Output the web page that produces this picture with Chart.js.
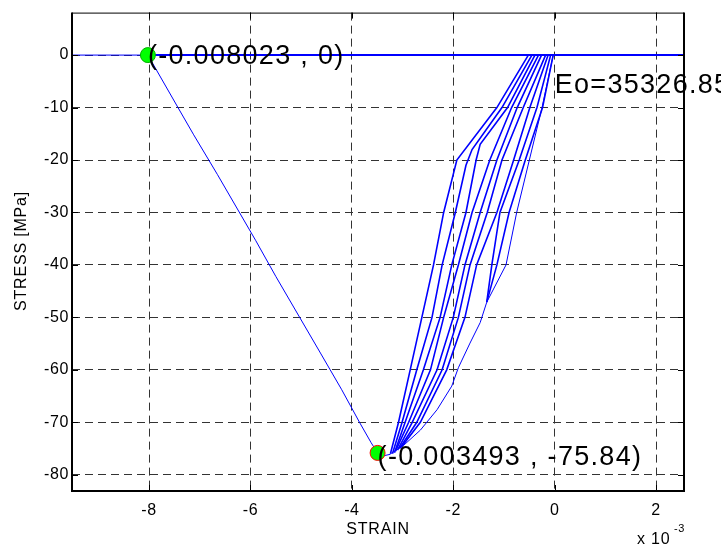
<!DOCTYPE html>
<html>
<head>
<meta charset="utf-8">
<script src="https://cdn.jsdelivr.net/npm/chart.js@4.4.1/dist/chart.umd.min.js"></script>
<style>
html, body { margin: 0; padding: 0; background: #fff; }
#wrap { width: 721px; height: 546px; }
</style>
</head>
<body>
<div id="wrap"><canvas id="chart" width="721" height="546"></canvas></div>
<script>
"use strict";
// strain is in units of 1e-3, stress in MPa
const xTicks = [-8, -6, -4, -2, 0, 2];
const yTicks = [0, -10, -20, -30, -40, -50, -60, -70, -80];
const xRange = [-9.52, 2.55];
const yRange = [-83.1, 8.1];

const zeroLine = [[-8.023, 0], [2.55, 0]];
const envelope = [[-9.52, 0], [-8.023, 0], [-7.43, -10], [-7.12, -15.2], [-6.65, -22.8], [-5.90, -35.3],
    [-5.50, -42.2], [-5.03, -50], [-4.62, -56.8], [-4.20, -63.8], [-3.85, -70], [-3.62, -73.9],
    [-3.493, -75.84], [-3.38, -76.4], [-3.24, -76.1]];

const loopL1 = [[-3.24, -76.0], [-3.08, -70], [-2.85, -60], [-2.62, -50], [-2.39, -40], [-2.19, -30], [-1.93, -20], [-1.14, -10], [-0.52, 0]];
const loopL2 = [[-3.20, -76.0], [-3.01, -70], [-2.72, -60], [-2.42, -50], [-2.22, -40], [-1.96, -30], [-1.75, -21], [-1.63, -18], [-1.04, -10], [-0.45, 0]];
const loopL3 = [[-3.16, -75.8], [-2.95, -70], [-2.59, -60], [-2.26, -50], [-2.03, -40], [-1.75, -30], [-1.55, -20], [-1.47, -17], [-0.93, -10], [-0.39, 0]];
const loopM1 = [[-3.14, -75.5], [-2.88, -70], [-2.45, -60], [-2.19, -50], [-1.90, -40], [-1.63, -30], [-1.28, -20], [-0.85, -10], [-0.32, 0]];
const loopM2 = [[-3.10, -75.3], [-2.81, -70], [-2.32, -60], [-2.00, -50], [-1.77, -40], [-1.47, -30], [-1.14, -20], [-0.74, -10], [-0.26, 0]];
const loopM3 = [[-3.06, -75.0], [-2.72, -70], [-2.22, -60], [-1.90, -50], [-1.67, -40], [-1.33, -30], [-1.04, -20], [-0.62, -10], [-0.18, 0]];
const loopM4 = [[-3.03, -74.8], [-2.65, -70], [-2.13, -60], [-1.77, -50], [-1.54, -40], [-1.14, -30], [-0.81, -20], [-0.49, -10], [-0.13, 0]];
const loopR1 = [[-1.34, -47.1], [-1.24, -40], [-1.08, -30], [-0.70, -20], [-0.35, -10], [-0.08, 0]];
const loopR2 = [[-1.34, -47.1], [-1.14, -40], [-0.90, -30], [-0.58, -20], [-0.24, -10], [-0.03, 0]];
const loopOuter = [[-3.24, -76.0], [-2.98, -74.4], [-2.65, -71.5], [-2.32, -67.6], [-2.03, -63.1], [-1.90, -59.6],
    [-1.67, -54.9], [-1.47, -51.0], [-1.34, -47.1], [-0.96, -40], [-0.75, -30], [-0.50, -20], [-0.25, -10], [-0.03, 0]];

const keyPoints = [[-8.023, 0], [-3.493, -75.84]];
const keyEdges = ['#00b000', '#ff0000'];
const modulusText = 'Eo=35326.85';
const modulusAt = [0, -7.2];

const FONT = 'Liberation Sans, Arial, sans-serif';
const BLUE = '#0000ff';

function pts(arr) {
    return arr.map(p => ({ x: p[0], y: p[1] }));
}

function lineSet(arr, width) {
    return {
        data: pts(arr), showLine: true, borderColor: BLUE, borderWidth: width,
        pointRadius: 0, fill: false, tension: 0, order: 2
    };
}

const loops = [loopL1, loopL2, loopL3, loopM1, loopM2, loopM3, loopM4, loopR1, loopR2];

const datasets = [
    {
        data: pts(keyPoints), showLine: false, pointRadius: 7.5, pointBackgroundColor: '#00ff00',
        pointBorderColor: keyEdges, pointBorderWidth: 1, order: 0
    },
    lineSet(envelope, 1),
    lineSet(zeroLine, 2),
    lineSet(loopOuter, 1)
].concat(loops.map(l => lineSet(l, 1.6)));

const frame = {
    id: 'frame',
    beforeDraw(chart) {
        chart.ctx.letterSpacing = '0.6px';
    },
    afterDatasetsDraw(chart) {
        const ctx = chart.ctx;
        const a = chart.chartArea;
        const xs = chart.scales.x, ys = chart.scales.y;
        ctx.save();
        ctx.strokeStyle = '#000';
        // tick marks pointing inward
        ctx.lineWidth = 1;
        ctx.beginPath();
        xTicks.forEach(v => {
            const px = Math.round(xs.getPixelForValue(v)) + 0.5;
            ctx.moveTo(px, a.bottom); ctx.lineTo(px, a.bottom - 6);
            ctx.moveTo(px, a.top); ctx.lineTo(px, a.top + 6);
        });
        yTicks.forEach(v => {
            const py = Math.round(ys.getPixelForValue(v)) + 0.5;
            ctx.moveTo(a.left, py); ctx.lineTo(a.left + 6, py);
            ctx.moveTo(a.right, py); ctx.lineTo(a.right - 6, py);
        });
        ctx.stroke();
        // box
        ctx.lineWidth = 1;
        ctx.beginPath();
        ctx.moveTo(a.left, a.top + 0.5); ctx.lineTo(a.right, a.top + 0.5);
        ctx.stroke();
        ctx.lineWidth = 2;
        ctx.beginPath();
        ctx.moveTo(a.left, a.top); ctx.lineTo(a.left, a.bottom); ctx.lineTo(a.right, a.bottom); ctx.lineTo(a.right, a.top);
        ctx.stroke();

        // point annotations
        ctx.fillStyle = '#000';
        ctx.font = '27px ' + FONT;
        ctx.letterSpacing = '1.3px';
        ctx.textAlign = 'left';
        ctx.textBaseline = 'alphabetic';
        keyPoints.forEach((p, i) => {
            const label = '(' + (p[0] / 1000).toFixed(6) + ' , ' + p[1] + ')';
            const dy = i === 0 ? 8.5 : 12;
            ctx.fillText(label, xs.getPixelForValue(p[0]), ys.getPixelForValue(p[1]) + dy);
        });
        ctx.fillText(modulusText, xs.getPixelForValue(modulusAt[0]), ys.getPixelForValue(modulusAt[1]));

        // axis titles
        ctx.font = '16px ' + FONT;
        ctx.letterSpacing = '0.8px';
        ctx.textAlign = 'center';
        ctx.textBaseline = 'middle';
        ctx.fillText('STRAIN', 378, 530);
        ctx.save();
        ctx.translate(22, 251);
        ctx.rotate(-Math.PI / 2);
        ctx.fillText('STRESS [MPa]', 0, 0);
        ctx.restore();
        ctx.textAlign = 'left';
        ctx.fillText('x 10', 637, 540);
        ctx.font = '11px ' + FONT;
        ctx.letterSpacing = '0.6px';
        ctx.fillText('-3', 674, 529);
        ctx.restore();
    }
};

const tickFont = { family: FONT, size: 16 };

new Chart(document.getElementById('chart'), {
    type: 'scatter',
    data: { datasets: datasets },
    options: {
        responsive: false,
        animation: false,
        events: [],
        layout: { padding: { top: 12, right: 37, left: 0, bottom: 0 } },
        plugins: { legend: { display: false }, tooltip: { enabled: false } },
        scales: {
            x: {
                type: 'linear', min: xRange[0], max: xRange[1],
                afterBuildTicks: s => { s.ticks = xTicks.map(v => ({ value: v })); },
                afterFit: s => { s.height = 55; },
                grid: { color: '#333333', lineWidth: 1, drawTicks: false },
                border: { display: false, dash: [8, 5] },
                ticks: { color: '#000', font: tickFont, padding: 10, maxRotation: 0, callback: v => String(v) }
            },
            y: {
                type: 'linear', min: yRange[0], max: yRange[1],
                afterBuildTicks: s => { s.ticks = yTicks.map(v => ({ value: v })); },
                afterFit: s => { s.width = 72; },
                grid: { color: '#333333', lineWidth: 1, drawTicks: false },
                border: { display: false, dash: [8, 5] },
                ticks: { color: '#000', font: tickFont, padding: 3, callback: v => String(v) }
            }
        }
    },
    plugins: [frame]
});
</script>
</body>
</html>
